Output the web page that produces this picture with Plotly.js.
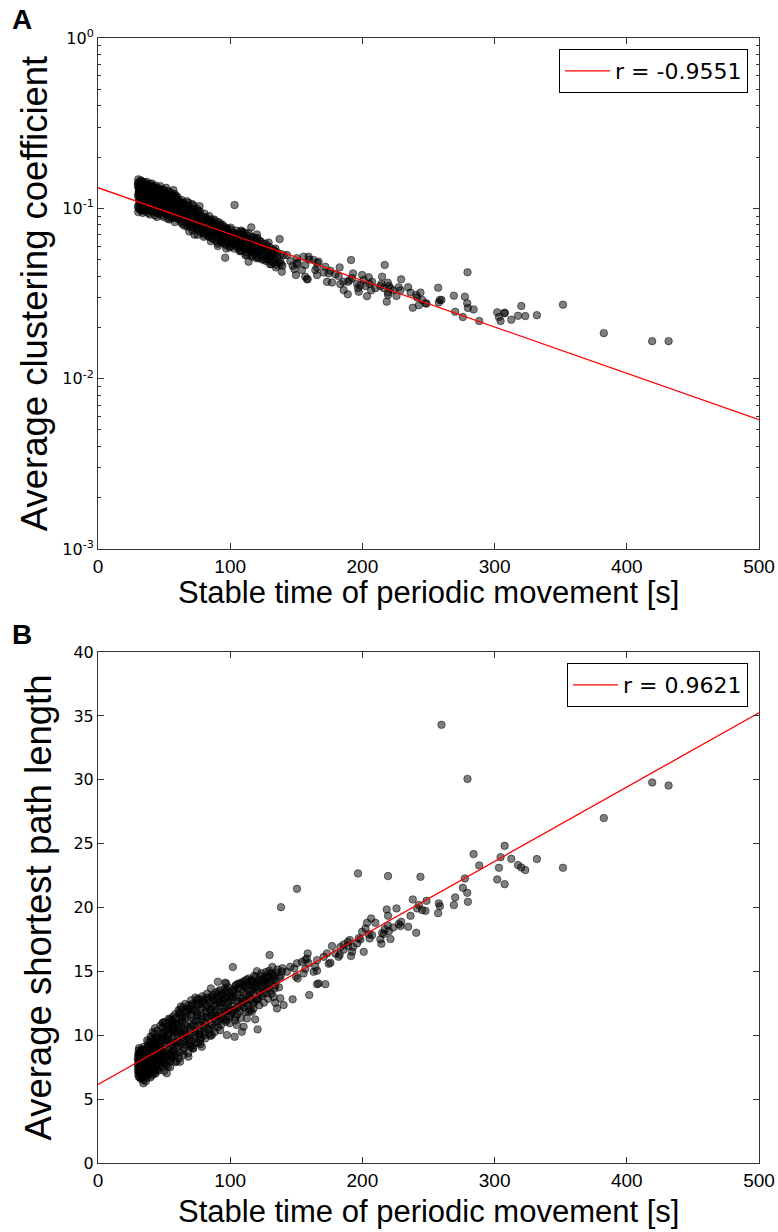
<!DOCTYPE html>
<html>
<head>
<meta charset="utf-8">
<script src="https://cdn.plot.ly/plotly-3.0.1.min.js"></script>
<style>html,body{margin:0;padding:0;background:#fff}#chart{width:778px;height:1232px}</style>
</head>
<body>
<div id="chart"></div>
<script>
// Each sample: [stable time (s), average clustering coefficient, average shortest path length]
const denseCluster30 = [
[30.5,0.148,6.9],[31,0.142,7.1],[31.5,0.137,7.3],[30.8,0.131,7.6],[31.2,0.127,7.8],[30.6,0.122,8.0],[31.8,0.118,8.2],[30.9,0.113,8.4],[31.4,0.108,8.6],[30.7,0.104,8.8],
[31.1,0.099,9.0],[30.4,0.095,8.5],[32.3,0.146,6.6],[32.8,0.139,6.8],[32.1,0.133,7.0],[33.0,0.128,7.4],[32.5,0.124,7.7],[33.3,0.119,7.9],[32.7,0.115,8.1],[33.6,0.110,8.3],
[32.2,0.106,8.7],[33.1,0.101,8.9],[32.9,0.097,7.5],[33.8,0.094,7.2],[34.2,0.143,6.5],[34.6,0.136,6.7],[35.0,0.130,7.0],[34.4,0.125,7.3],[35.3,0.121,7.6],[34.8,0.117,7.9],
[35.6,0.112,8.2],[34.1,0.107,8.5],[35.2,0.103,8.8],[34.7,0.098,9.1],[35.9,0.096,8.0],[36.2,0.140,6.4],[36.0,0.134,6.9],[30.3,0.118,7.2],[31.6,0.125,8.3],[32.6,0.112,7.4],
[33.4,0.135,7.9],[34.9,0.109,7.1],[30.2,0.102,7.7],[31.9,0.129,6.7],[33.7,0.123,8.6],[35.5,0.126,8.4],[32.0,0.099,8.1],[34.3,0.115,6.8],[35.8,0.119,7.4],[30.1,0.137,8.2],
[34.3,0.128,6.24]
];
const denseCluster40 = [
[36.5,0.128,7.8],[37.0,0.122,8.3],[37.4,0.116,8.8],[37.9,0.110,9.2],[38.3,0.104,9.5],[38.7,0.098,9.0],[39.1,0.092,8.4],[39.6,0.139,6.7],[40.0,0.133,7.1],[40.4,0.127,7.5],
[40.9,0.121,8.0],[41.3,0.115,8.6],[41.7,0.109,9.1],[42.2,0.103,9.6],[42.6,0.097,10.1],[43.0,0.091,9.4],[43.5,0.136,7.0],[43.9,0.130,7.4],[44.3,0.124,7.9],[44.8,0.118,8.4],
[45.2,0.112,8.9],[36.8,0.143,6.9],[37.6,0.137,7.2],[38.5,0.131,7.6],[39.3,0.125,8.1],[40.2,0.119,8.5],[41.0,0.113,8.2],[41.9,0.107,7.8],[42.8,0.101,8.8],[43.7,0.095,9.8],
[44.5,0.089,9.3],[36.3,0.106,7.1],[38.0,0.094,7.6],[39.8,0.100,9.9],[41.5,0.134,9.0],[43.2,0.108,7.2],[44.9,0.128,8.0],[37.2,0.113,9.6],[40.7,0.140,8.3],[42.4,0.120,7.0]
];
const denseCluster55 = [
[45.8,0.131,7.6],[46.3,0.125,8.1],[46.9,0.119,8.6],[47.4,0.113,9.1],[47.9,0.107,9.6],[48.5,0.101,10.1],[49.0,0.095,10.6],[49.6,0.089,9.9],[50.1,0.128,7.2],[50.7,0.122,7.8],
[51.2,0.116,8.3],[51.8,0.110,8.9],[52.3,0.104,9.4],[52.9,0.098,10.0],[53.4,0.092,10.5],[54.0,0.086,11.0],[54.6,0.124,7.5],[55.1,0.118,8.1],[55.7,0.112,8.7],[56.2,0.106,9.3],
[56.8,0.100,9.9],[57.3,0.094,10.4],[57.9,0.088,11.0],[58.4,0.115,7.9],[59.0,0.109,8.5],[59.5,0.103,9.2],[60.0,0.097,9.8],[46.0,0.097,8.8],[47.1,0.135,8.0],[48.2,0.091,7.5],
[49.3,0.117,11.0],[50.4,0.103,8.6],[51.5,0.132,9.7],[52.6,0.087,8.1],[53.7,0.111,11.3],[55.4,0.096,8.4],[56.5,0.121,10.8],[58.1,0.083,9.5],[59.2,0.118,10.9],[57.0,0.128,8.8],
[52.0,0.112,7.02]
];
const denseCluster70 = [
[60.5,0.111,10.4],[61.1,0.105,11.0],[61.8,0.099,11.6],[62.4,0.093,12.0],[63.0,0.087,10.7],[63.7,0.081,10.1],[64.3,0.108,8.8],[65.0,0.102,9.5],[65.6,0.096,10.2],[66.3,0.090,10.9],
[66.9,0.084,11.5],[67.6,0.078,12.1],[68.2,0.104,8.6],[68.9,0.098,9.3],[69.5,0.092,10.0],[70.2,0.086,10.7],[70.8,0.080,11.4],[71.5,0.074,12.0],[72.1,0.100,9.0],[72.8,0.094,9.7],
[73.4,0.088,10.4],[74.1,0.082,11.1],[74.7,0.076,11.8],[75.4,0.070,12.4],[76.0,0.096,9.4],[76.8,0.103,10.1],[77.3,0.090,10.8],[78.0,0.084,11.5],[78.6,0.078,12.2],[79.3,0.072,12.7],
[80.0,0.068,10.0],[61.5,0.086,8.2],[63.4,0.112,11.4],[65.3,0.079,9.0],[67.2,0.110,11.9],[69.1,0.073,9.6],[71.1,0.106,12.3],[73.0,0.070,10.0],[75.0,0.099,12.8],[77.5,0.091,9.3],
[77.3,0.088,9.62],[78.5,0.086,9.1],[71.0,0.094,9.1],[68.4,0.097,8.32],[62.1,0.104,7.93]
];
const denseCluster95 = [
[80.6,0.093,10.3],[81.3,0.087,11.0],[82.0,0.081,11.7],[82.7,0.075,12.3],[83.4,0.069,12.8],[84.1,0.090,10.1],[84.9,0.084,10.8],[85.6,0.078,11.5],[86.3,0.072,12.2],[87.0,0.066,12.9],
[87.8,0.086,10.6],[88.5,0.080,11.3],[89.2,0.074,12.0],[89.9,0.068,12.7],[90.7,0.062,13.2],[91.4,0.083,11.1],[92.1,0.077,11.8],[92.8,0.071,12.5],[93.5,0.065,13.1],[94.3,0.080,11.4],
[95.0,0.074,12.1],[95.7,0.068,12.8],[96.4,0.062,13.4],[97.2,0.077,11.2],[98.0,0.071,11.9],[98.7,0.065,12.6],[99.4,0.059,13.3],[100.2,0.075,11.6],[101.0,0.069,12.3],[101.8,0.063,13.0],
[102.5,0.072,13.6],[103.3,0.066,12.0],[104.1,0.060,11.4],[104.8,0.070,12.7],[85.4,0.064,13.67],[90.7,0.060,14.19],[97.0,0.058,14.06],[96.2,0.0513,14.11],[102.0,0.062,15.34],[92.4,0.079,10.4],
[86.1,0.081,10.02],[97.5,0.076,10.02],[103.3,0.1045,9.88],[108.8,0.073,10.27],[105.0,0.071,10.8],[110.1,0.070,10.67],[120.7,0.067,10.46]
];
const extraCluster = [
[30.3,0.141,7.45],[30.6,0.133,8.05],[30.9,0.126,6.75],[31.3,0.119,8.55],[31.7,0.112,7.15],[32.0,0.105,8.25],[32.4,0.098,7.65],[32.8,0.121,8.85],[33.2,0.144,7.35],[33.5,0.116,6.95],
[33.9,0.109,7.75],[34.4,0.131,8.45],[34.8,0.102,7.05],[35.1,0.138,7.85],[35.4,0.114,6.85],[35.7,0.107,8.65],[36.1,0.124,7.55],[36.4,0.099,8.35],[36.9,0.118,6.65],[37.3,0.133,9.05],
[37.8,0.101,7.45],[38.2,0.127,8.15],[38.6,0.111,6.95],[39.0,0.136,7.85],[39.4,0.105,8.95],[39.9,0.122,9.45],[40.3,0.096,7.75],[40.8,0.114,6.85],[41.2,0.129,8.75],[41.6,0.101,9.35],
[42.1,0.117,7.35],[42.5,0.133,8.45],[43.0,0.106,8.05],[43.4,0.121,9.65],[43.8,0.099,7.65],[44.2,0.113,9.05],[44.7,0.131,8.65],[45.1,0.094,8.25],[45.6,0.119,9.75],[46.1,0.106,7.25],
[46.6,0.128,9.25],[47.0,0.099,8.35],[47.5,0.116,10.15],[48.0,0.123,7.95],[48.4,0.104,9.85],[48.9,0.129,8.75],[49.4,0.097,8.15],[49.9,0.111,10.25],[50.3,0.119,9.15],[50.9,0.093,9.65],
[51.4,0.107,7.65],[51.9,0.121,10.45],[52.5,0.099,8.55],[53.0,0.114,9.55],[53.6,0.091,10.75],[54.2,0.118,8.45],[54.8,0.103,10.15],[55.3,0.088,9.05],[55.9,0.109,11.15],[56.4,0.115,8.25],
[57.0,0.096,10.65],[57.6,0.106,9.25],[58.2,0.121,10.25],[58.7,0.091,8.55],[59.3,0.101,11.35],[59.9,0.112,9.45],[60.4,0.087,10.85],[61.0,0.098,9.15],[61.6,0.109,11.75],[62.2,0.094,10.35],
[62.9,0.083,9.35],[63.5,0.101,11.05],[64.1,0.089,12.15],[64.8,0.097,10.45],[65.4,0.085,9.65],[66.1,0.104,11.25],[66.8,0.092,10.05],[67.4,0.081,11.85],[68.1,0.096,9.85],[68.8,0.088,12.05],
[69.4,0.079,10.55],[70.1,0.099,11.65],[70.8,0.091,9.55],[71.4,0.083,12.45],[72.1,0.077,10.85],[72.8,0.095,11.95],[73.5,0.086,10.25],[74.2,0.078,12.55],[74.9,0.091,10.75],[75.6,0.082,11.45],
[76.3,0.074,12.85],[77.0,0.087,10.35],[77.8,0.079,12.05],[78.5,0.072,11.25],[79.2,0.085,12.65],[80.0,0.077,11.05],[80.8,0.070,12.45],[81.5,0.083,11.85],[82.3,0.072,10.55],[83.1,0.079,12.95],
[83.9,0.068,11.35],[84.7,0.075,12.55],[85.5,0.082,11.95],[86.3,0.067,10.85],[87.1,0.074,13.15],[88.0,0.070,11.75],[88.8,0.078,12.35],[89.6,0.064,11.05],[90.5,0.072,12.85],[91.3,0.068,13.45],
[92.2,0.075,12.25],[93.0,0.063,11.55],[93.9,0.070,13.25],[94.8,0.066,12.65],[95.7,0.073,11.85],[96.6,0.061,12.95],[97.5,0.068,13.55],[98.4,0.064,12.35],[99.3,0.071,11.45],[100.2,0.060,13.05],
[101.1,0.066,12.75],[102.1,0.070,11.95],[103.0,0.058,13.35],[104.0,0.064,13.85],[104.9,0.067,12.15],[105.9,0.059,13.65],[106.9,0.065,12.95],[107.8,0.061,14.05],[108.8,0.056,12.45],[109.8,0.063,13.45],
[110.8,0.058,14.25],[111.8,0.066,12.75],[112.8,0.055,13.75],[113.9,0.061,14.45],[114.9,0.057,13.15],[116.0,0.064,14.15],[117.0,0.053,13.55],[118.1,0.059,14.65],[119.2,0.055,13.85],[120.3,0.062,12.85],
[121.4,0.051,14.35],[122.5,0.057,13.45],[123.6,0.054,14.85],[124.8,0.059,13.25],[125.9,0.050,14.55],[127.1,0.056,14.95],[128.3,0.052,13.65],[129.5,0.057,15.05],[130.7,0.049,14.25],[131.9,0.054,15.35]
];
const moreBand = [
[40.5,0.118,9.75],[41.4,0.104,10.25],[42.3,0.126,7.45],[43.1,0.112,10.55],[44.0,0.098,8.65],[44.6,0.121,10.35],[45.5,0.107,7.35],[46.4,0.093,9.45],[47.2,0.126,10.75],[48.1,0.113,8.25],
[48.8,0.099,10.95],[49.7,0.124,7.85],[50.6,0.109,11.05],[51.1,0.095,8.35],[52.0,0.118,10.65],[52.8,0.104,7.55],[53.3,0.126,9.85],[54.4,0.097,11.25],[55.0,0.112,7.95],[55.8,0.102,10.45],
[56.7,0.119,11.45],[57.4,0.089,8.75],[58.5,0.108,11.65],[59.6,0.094,7.95],[60.2,0.116,10.15],[60.9,0.101,11.95],[61.9,0.091,8.65],[62.6,0.109,12.25],[63.3,0.095,9.85],[64.0,0.084,11.45],
[64.6,0.105,8.45],[65.9,0.091,12.45],[66.6,0.099,9.25],[67.8,0.086,10.65],[68.5,0.108,12.35],[69.8,0.082,9.15],[70.5,0.095,12.75],[71.8,0.087,8.95],[72.4,0.104,11.15],[73.7,0.081,12.95],
[74.4,0.093,9.45],[75.2,0.085,11.65],[76.6,0.078,10.05],[77.1,0.096,12.45],[78.2,0.082,9.85],[79.0,0.075,13.05],[79.7,0.089,10.65],[80.3,0.081,12.85],[81.1,0.074,9.75],[81.9,0.088,11.45],
[82.5,0.077,13.25],[83.6,0.085,10.45],[84.3,0.071,12.05],[85.1,0.079,9.95],[86.0,0.086,13.05],[86.7,0.069,11.45],[87.5,0.081,12.75],[88.3,0.074,10.25],[89.0,0.084,13.35],[89.9,0.071,11.55],
[90.9,0.078,10.65],[91.7,0.066,12.55],[92.6,0.081,13.55],[93.3,0.072,10.85],[94.1,0.064,12.85],[94.9,0.078,11.25],[95.9,0.069,13.65],[96.8,0.075,11.05],[97.7,0.063,12.15],[98.6,0.073,13.75],
[99.6,0.067,10.95],[100.5,0.077,12.95],[101.4,0.062,11.75],[102.3,0.071,13.45],[103.6,0.065,11.15],[104.5,0.074,13.95],[105.4,0.062,11.65],[106.2,0.070,14.05],[107.1,0.056,12.25],[108.0,0.066,11.35],
[109.0,0.072,14.15],[109.9,0.059,12.65],[110.6,0.067,13.95],[111.5,0.053,11.85],[112.4,0.063,14.35],[113.3,0.069,12.35],[114.2,0.058,13.05],[115.3,0.066,11.95],[116.3,0.052,14.25],[117.3,0.062,12.45],
[118.3,0.067,13.75],[119.0,0.057,14.55],[119.9,0.051,12.75],[121.0,0.061,14.05],[122.0,0.055,12.35],[123.0,0.064,14.65],[124.5,0.053,13.85],[125.5,0.058,12.55],[126.7,0.062,14.25],[127.8,0.050,13.95],
[128.8,0.055,12.85],[130.0,0.059,14.85],[131.2,0.047,13.25],[132.4,0.053,14.55],[133.5,0.056,13.65],[134.6,0.045,14.25],[135.8,0.052,15.15],[136.9,0.048,13.75],[138.2,0.054,14.65],[139.5,0.046,15.25]
];
const bandPoints120 = [
[105.6,0.068,13.2],[106.5,0.062,12.6],[107.4,0.057,11.9],[108.3,0.074,13.6],[109.2,0.066,12.9],[110.2,0.060,12.2],[111.1,0.072,13.8],[112.0,0.064,13.2],[112.9,0.058,12.5],[113.9,0.0713,14.0],
[114.8,0.062,13.4],[115.7,0.056,12.8],[116.7,0.068,13.9],[117.6,0.060,13.3],[118.5,0.054,12.6],[119.5,0.066,14.1],[120.4,0.058,13.5],[121.4,0.052,12.9],[122.3,0.064,14.2],[123.3,0.056,13.7],
[124.2,0.050,13.1],[125.2,0.062,14.4],[126.2,0.054,13.9],[127.1,0.049,13.3],[128.1,0.060,14.6],[129.1,0.053,14.1],[130.1,0.047,13.5],[131.6,0.0556,14.8],[132.8,0.051,14.3],[134.1,0.058,13.9],
[135.4,0.0465,14.9],[137.4,0.066,14.5],[139.1,0.0424,15.0],[112.6,0.0532,11.32],[113.9,0.0486,11.84],[115.9,0.0773,14.32],[116.4,0.057,11.84],[117.7,0.0557,12.1],[118.9,0.061,11.24],[120.2,0.0703,15.02],
[124.0,0.059,14.19],[129.0,0.063,14.58],[129.8,0.052,16.28],[132.8,0.057,14.71],[134.1,0.050,12.54],[135.4,0.055,12.1],[140.4,0.053,12.36],[137.9,0.049,12.9],[132.8,0.048,13.0],[147.2,0.046,12.81]
];
const sparsePoints = [
[138.4,0.047,20.03],[142.9,0.0532,14.97],[145.5,0.049,15.36],[148.5,0.044,15.23],[149.7,0.0406,14.6],[150.5,0.051,21.46],[150.5,0.047,15.63],[151.0,0.048,14.45],[154.3,0.0434,15.75],[155.5,0.052,14.84],
[156.8,0.0465,15.2],[156.8,0.0397,15.9],[158.0,0.0384,16.0],[158.6,0.0383,16.41],[159.3,0.052,15.63],[159.8,0.050,13.15],[163.1,0.0497,14.97],[164.4,0.0434,15.36],[165.7,0.0406,15.88],[165.7,0.045,15.05],
[165.7,0.048,14.0],[166.9,0.0486,14.06],[170.7,0.042,16.14],[172.0,0.0454,14.0],[173.2,0.037,16.41],[174.5,0.0415,15.6],[175.8,0.043,15.67],[177.0,0.0367,16.98],[179.5,0.041,16.41],[182.0,0.040,16.14],
[182.8,0.045,16.3],[183.3,0.0359,16.9],[185.8,0.0371,16.7],[185.8,0.0331,17.1],[188.9,0.0313,17.3],[189.2,0.037,16.98],[190.4,0.038,17.45],[191.4,0.0497,16.2],[192.2,0.039,16.53],[192.9,0.0415,16.9],
[196.0,0.036,17.19],[196.7,0.034,22.67],[197.2,0.0324,17.6],[198.5,0.0355,17.5],[199.8,0.0406,18.1],[201.0,0.038,16.53],[202.3,0.035,18.36],[203.5,0.0305,18.8],[204.8,0.0394,17.9],[205.5,0.036,17.58],
[206.6,0.033,19.15],[207.3,0.037,17.84],[209.8,0.034,18.8],[213.6,0.035,17.5],[214.4,0.036,17.16],[214.9,0.0397,18.0],[216.2,0.034,17.92],[216.9,0.0465,18.3],[218.4,0.0283,19.85],[219.2,0.0366,18.6],
[219.4,0.031,22.46],[219.4,0.032,19.35],[220.0,0.035,18.15],[221.2,0.034,17.53],[223.3,0.033,18.44],[225.8,0.0306,19.93],[227.5,0.0344,18.7],[228.8,0.033,18.55],[229.3,0.0383,18.88],[234.6,0.0344,18.49],
[236.4,0.032,19.35],[238.1,0.0261,20.63],[240.7,0.031,18.02],[241.4,0.030,19.93],[242.7,0.027,20.2],[243.9,0.032,22.4],[245.2,0.029,19.8],[247.7,0.0277,19.74],[248.5,0.0276,20.52],[257.3,0.0342,19.56],
[257.8,0.028,20.32],[258.6,0.029,20.1],[259.8,0.029,34.3],[269.2,0.0307,20.19],[270.2,0.0247,20.79],[276.0,0.023,21.54],[277.5,0.0303,22.27],[279.3,0.0277,21.15],[279.8,0.026,20.45],[279.5,0.0421,30.07],
[284.1,0.0255,24.18],[288.4,0.0218,23.29],[302.0,0.0245,22.2],[303.3,0.023,23.11],[304.5,0.0218,23.94],[307.6,0.0242,24.83],[307.6,0.0244,21.83],[312.6,0.0222,23.81],[317.7,0.0234,23.32],[320.2,0.0267,23.14],
[323.2,0.0233,22.93],[332.0,0.0236,23.79],[351.7,0.0272,23.11],[382.6,0.0185,27.0],[419.2,0.0166,29.79],[431.6,0.0166,29.55]
];

// Fitted regression lines (end points)
const fitTime = [0, 500];
const fitClustering = [0.1321, 0.00574];
const fitPathLength = [6.15, 35.25];
const labelClustering = 'r = -0.9551';
const labelPathLength = 'r = 0.9621';
const xTitle = 'Stable time of periodic movement [s]';
const xTickVals = [0, 100, 200, 300, 400, 500];
const logTickVals = [0.001, 0.01, 0.1, 1];
const logTickText = ['10<sup>-3</sup>', '10<sup>-2</sup>', '10<sup>-1</sup>', '10<sup>0</sup>'];

const samples = [].concat(denseCluster30, denseCluster40, denseCluster55, denseCluster70, denseCluster95, extraCluster, moreBand, bandPoints120, sparsePoints);
const stableTime = samples.map(s => s[0]);
const avgClustering = samples.map(s => s[1]);
const avgPathLength = samples.map(s => s[2]);

const minorLog = [];
[0.001, 0.01, 0.1].forEach(d => { for (let k = 2; k <= 9; k++) minorLog.push(d * k); });

const marker = {size: 7.5, color: 'rgba(0,0,0,0.5)', line: {color: 'rgba(0,0,0,0.5)', width: 1}};
const tickFont = {family: 'DejaVu Sans', size: 16, color: '#000'};
const xTickFont = {family: 'Liberation Sans', size: 19, color: '#000'};
const titleFont = {family: 'Liberation Sans', size: 31, color: '#000'};
const yTitleFont = {family: 'Liberation Sans', size: 36.5, color: '#000'};

const traces = [
  {type: 'scatter', mode: 'markers', x: stableTime, y: avgClustering, xaxis: 'x', yaxis: 'y', marker: marker, showlegend: false, hoverinfo: 'x+y'},
  {type: 'scatter', mode: 'lines', x: fitTime, y: fitClustering, xaxis: 'x', yaxis: 'y', line: {color: '#ff0000', width: 1.3}, name: labelClustering, legend: 'legend'},
  {type: 'scatter', mode: 'markers', x: stableTime, y: avgPathLength, xaxis: 'x2', yaxis: 'y2', marker: marker, showlegend: false, hoverinfo: 'x+y'},
  {type: 'scatter', mode: 'lines', x: fitTime, y: fitPathLength, xaxis: 'x2', yaxis: 'y2', line: {color: '#ff0000', width: 1.3}, name: labelPathLength, legend: 'legend2'}
];

const axisCommon = {showline: true, linecolor: '#333', linewidth: 1, mirror: 'allticks', ticks: 'inside', ticklen: 6, tickcolor: '#333', showgrid: false, zeroline: false};

const legendCommon = {x: 0.9834, xanchor: 'right', yanchor: 'top', bordercolor: '#000', borderwidth: 1, bgcolor: '#fff',
  font: {family: 'DejaVu Sans', size: 22, color: '#000'}, itemwidth: 45};

const layout = {
  width: 778, height: 1232,
  margin: {l: 98, r: 19, t: 38, b: 69},
  paper_bgcolor: '#fff', plot_bgcolor: '#fff',
  xaxis: Object.assign({}, axisCommon, {domain: [0, 1], anchor: 'y', range: [0, 500], tickvals: xTickVals, tickfont: xTickFont}),
  yaxis: Object.assign({}, axisCommon, {domain: [0.5458, 1], anchor: 'x', type: 'log', range: [-3, 0], tickvals: logTickVals, ticktext: logTickText, tickfont: tickFont,
    minor: {tickvals: minorLog, ticks: 'inside', ticklen: 3, tickcolor: '#333', showgrid: false},
    title: {text: 'Average clustering coefficient', font: yTitleFont, standoff: 3}}),
  xaxis2: Object.assign({}, axisCommon, {domain: [0, 1], anchor: 'y2', range: [0, 500], tickvals: xTickVals, tickfont: xTickFont}),
  yaxis2: Object.assign({}, axisCommon, {domain: [0, 0.4542], anchor: 'x2', range: [0, 40], dtick: 5, tick0: 0, tickfont: tickFont,
    title: {text: 'Average shortest path length', font: yTitleFont, standoff: 10}}),
  legend: Object.assign({}, legendCommon, {y: 0.9902}),
  legend2: Object.assign({}, legendCommon, {y: 0.4444}),
  annotations: [
    {text: xTitle, xref: 'paper', yref: 'paper', x: 0.5, y: 0.5067, xanchor: 'center', yanchor: 'middle', showarrow: false, font: titleFont},
    {text: xTitle, xref: 'paper', yref: 'paper', x: 0.5, y: -0.0435, xanchor: 'center', yanchor: 'middle', showarrow: false, font: titleFont},
    {text: '<b>A</b>', xref: 'paper', yref: 'paper', x: -0.115, y: 1.016, xanchor: 'center', yanchor: 'middle', showarrow: false, font: {family: 'Liberation Sans', size: 28, color: '#000'}},
    {text: '<b>B</b>', xref: 'paper', yref: 'paper', x: -0.115, y: 0.4702, xanchor: 'center', yanchor: 'middle', showarrow: false, font: {family: 'Liberation Sans', size: 28, color: '#000'}}
  ],
  hovermode: 'closest'
};

Plotly.newPlot('chart', traces, layout, {displayModeBar: false, staticPlot: true});
</script>
</body>
</html>
